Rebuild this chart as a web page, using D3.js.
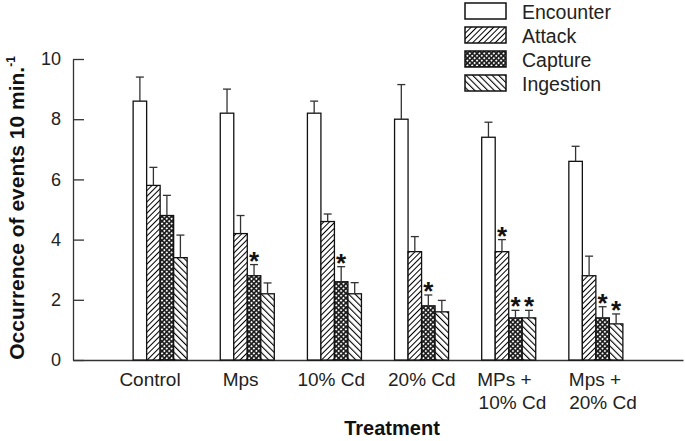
<!DOCTYPE html>
<html>
<head>
<meta charset="utf-8">
<script src="https://cdn.jsdelivr.net/npm/d3@7"></script>
<style>
  body { margin: 0; background: #fff; }
  svg { display: block; font-family: "Liberation Sans", Arial, sans-serif; }
</style>
</head>
<body>
<svg id="chart" width="685" height="441"></svg>
<script>
const categories = ["Control", "Mps", "10% Cd", "20% Cd", "MPs +|10% Cd", "Mps +|20% Cd"];
const seriesNames = ["Encounter", "Attack", "Capture", "Ingestion"];
const encounter = [8.6, 8.2, 8.2, 8.0, 7.4, 6.6];
const encounterErr = [0.8, 0.8, 0.4, 1.15, 0.5, 0.5];
const attack = [5.8, 4.2, 4.6, 3.6, 3.6, 2.8];
const attackErr = [0.6, 0.6, 0.25, 0.5, 0.4, 0.65];
const capture = [4.8, 2.8, 2.6, 1.8, 1.4, 1.4];
const captureErr = [0.67, 0.37, 0.5, 0.36, 0.25, 0.37];
const ingestion = [3.4, 2.2, 2.2, 1.6, 1.4, 1.2];
const ingestionErr = [0.75, 0.36, 0.37, 0.38, 0.25, 0.33];
const encounterSig = [0, 0, 0, 0, 0, 0];
const attackSig = [0, 0, 0, 0, 1, 0];
const captureSig = [0, 1, 1, 1, 1, 1];
const ingestionSig = [0, 0, 0, 0, 1, 1];
const yTicks = [0, 2, 4, 6, 8, 10];

const seriesValues = [encounter, attack, capture, ingestion];
const seriesErrs = [encounterErr, attackErr, captureErr, ingestionErr];
const seriesSig = [encounterSig, attackSig, captureSig, ingestionSig];
const fills = ["#fff", "url(#pAttack)", "url(#pCapture)", "url(#pIngest)"];

const svg = d3.select("#chart");
const defs = svg.append("defs");

// Patterns
const pa = defs.append("pattern").attr("id", "pAttack").attr("patternUnits", "userSpaceOnUse")
  .attr("width", 4).attr("height", 4).attr("patternTransform", "rotate(45)");
pa.append("rect").attr("width", 4).attr("height", 4).attr("fill", "#fff");
pa.append("line").attr("x1", 0).attr("y1", 0).attr("x2", 0).attr("y2", 4)
  .attr("stroke", "#000").attr("stroke-width", 2);

const pi = defs.append("pattern").attr("id", "pIngest").attr("patternUnits", "userSpaceOnUse")
  .attr("width", 4.6).attr("height", 4.6).attr("patternTransform", "rotate(-45)");
pi.append("rect").attr("width", 4.6).attr("height", 4.6).attr("fill", "#fff");
pi.append("line").attr("x1", 0).attr("y1", 0).attr("x2", 0).attr("y2", 4.6)
  .attr("stroke", "#000").attr("stroke-width", 2.2);

const pc = defs.append("pattern").attr("id", "pCapture").attr("patternUnits", "userSpaceOnUse")
  .attr("width", 3.4).attr("height", 3.4).attr("patternTransform", "rotate(45)");
pc.append("rect").attr("width", 3.4).attr("height", 3.4).attr("fill", "#1a1a1a");
pc.append("circle").attr("cx", 1.7).attr("cy", 1.7).attr("r", 1.0).attr("fill", "#fff");

// Scales
const x0 = d3.scaleBand().domain(categories).range([73, 683]).paddingInner(0.38).paddingOuter(0.69);
const x1 = d3.scaleBand().domain(seriesNames).range([0, x0.bandwidth()]);
const y = d3.scaleLinear().domain([0, 10]).range([360, 59]);
const labelScale = d3.scalePoint().domain(categories).range([150, 603]);

// Y axis
const yAxis = d3.axisLeft(y).tickValues(yTicks).tickSizeInner(-11).tickSizeOuter(0).tickPadding(12);
const gy = svg.append("g").attr("transform", "translate(73,0)").call(yAxis);
gy.select(".domain").attr("stroke", "#333").attr("stroke-width", 1.3);
gy.selectAll(".tick line").attr("stroke", "#333").attr("stroke-width", 1.3);
gy.selectAll(".tick text").attr("font-size", 18).attr("fill", "#222")
  .attr("font-family", "Liberation Sans, Arial, sans-serif");

// X axis line
const xAxis = d3.axisBottom(d3.scaleLinear().domain([0, 1]).range([73, 683])).tickValues([]).tickSizeOuter(0);
const gx = svg.append("g").attr("transform", "translate(0,360)").call(xAxis);
gx.select(".domain").attr("stroke", "#333").attr("stroke-width", 1.3);

// Bars
const groups = svg.append("g").selectAll("g").data(categories).join("g")
  .attr("transform", d => `translate(${x0(d)},0)`);

seriesNames.forEach((s, si) => {
  groups.append("rect")
    .attr("x", x1(s))
    .attr("width", x1.bandwidth())
    .attr("y", (d, i) => y(seriesValues[si][i]))
    .attr("height", (d, i) => y(0) - y(seriesValues[si][i]))
    .attr("fill", fills[si])
    .attr("stroke", "#111").attr("stroke-width", 1.3);
  const cx = x1(s) + x1.bandwidth() / 2;
  groups.append("line")
    .attr("x1", cx).attr("x2", cx)
    .attr("y1", (d, i) => y(seriesValues[si][i]))
    .attr("y2", (d, i) => y(seriesValues[si][i] + seriesErrs[si][i]))
    .attr("stroke", "#333").attr("stroke-width", 1.3);
  groups.append("line")
    .attr("x1", cx - 4).attr("x2", cx + 4)
    .attr("y1", (d, i) => y(seriesValues[si][i] + seriesErrs[si][i]))
    .attr("y2", (d, i) => y(seriesValues[si][i] + seriesErrs[si][i]))
    .attr("stroke", "#333").attr("stroke-width", 1.3);
  groups.filter((d, i) => seriesSig[si][i]).append("text")
    .attr("x", cx)
    .attr("y", d => { const i = categories.indexOf(d); return y(seriesValues[si][i] + seriesErrs[si][i]) + 5; })
    .attr("text-anchor", "middle")
    .attr("font-size", 26).attr("font-weight", "bold").attr("fill", "#111")
    .text("*");
});

// Category labels
const lab = svg.append("g").selectAll("text").data(categories).join("text")
  .attr("text-anchor", "middle").attr("font-size", 19).attr("fill", "#222")
  .attr("transform", d => `translate(${labelScale(d)},386)`);
lab.each(function(d) {
  const lines = d.split("|");
  d3.select(this).selectAll("tspan").data(lines).join("tspan")
    .attr("x", (l, j) => j === 0 && lines.length > 1 ? -8 : 0)
    .attr("dy", (l, j) => j === 0 ? 0 : 23).text(l => l);
});

// Axis titles
svg.append("text").attr("x", 392).attr("y", 435).attr("text-anchor", "middle")
  .attr("font-size", 20).attr("font-weight", "bold").attr("fill", "#111").text("Treatment");

const yt = svg.append("text").attr("transform", "translate(24,208) rotate(-90)")
  .attr("text-anchor", "middle").attr("font-size", 21).attr("font-weight", "bold").attr("fill", "#111");
yt.append("tspan").text("Occurrence of events 10 min.");
yt.append("tspan").attr("font-size", 12).attr("dy", -9).text("-1");

// Legend
const lg = svg.append("g").selectAll("g").data(seriesNames).join("g")
  .attr("transform", (d, i) => `translate(465,${3 + i * 24})`);
lg.append("rect").attr("width", 41).attr("height", 16)
  .attr("fill", (d, i) => fills[i]).attr("stroke", "#111").attr("stroke-width", 1.5);
lg.append("text").attr("x", 57).attr("y", 15.5).attr("font-size", 19.5).attr("fill", "#222").text(d => d);
</script>
</body>
</html>
